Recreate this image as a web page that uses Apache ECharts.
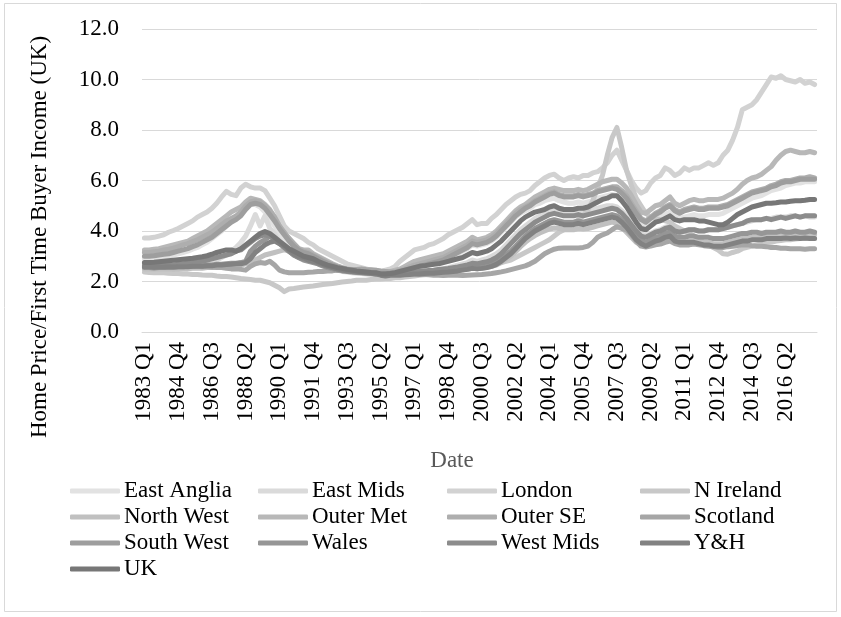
<!DOCTYPE html>
<html>
<head>
<meta charset="utf-8">
<script src="https://cdn.jsdelivr.net/npm/echarts@6/dist/echarts.min.js"></script>
<style>html,body{margin:0;padding:0;background:#fff}#c{width:841px;height:617px}</style>
</head>
<body>
<div id="c"></div>
<script>
// Categories: quarterly 1983 Q1 .. 2017 Q4
const years = [1983,1984,1985,1986,1987,1988,1989,1990,1991,1992,1993,1994,1995,1996,1997,1998,1999,2000,2001,2002,2003,2004,2005,2006,2007,2008,2009,2010,2011,2012,2013,2014,2015,2016,2017];
const quarters = ['Q1','Q2','Q3','Q4'];
const categories = [];
years.forEach(y => quarters.forEach(q => categories.push(y + ' ' + q)));

const seriesNames = ['East Anglia','East Mids','London','N Ireland','North West','Outer Met','Outer SE','Scotland','South West','Wales','West Mids','Y&H','UK'];
const yTicks = [0,2,4,6,8,10,12];

const eastAnglia = [
2.90,2.90,2.92,2.95, 2.98,3.00,3.05,3.10, 3.15,3.20,3.28,3.35, 3.45,3.55,3.70,3.85,
4.00,4.20,4.40,4.55, 4.75,5.00,5.10,5.05, 4.95,4.75,4.50,4.20, 3.90,3.65,3.45,3.30,
3.15,3.05,3.00,2.90, 2.80,2.70,2.62,2.55, 2.50,2.45,2.42,2.40, 2.38,2.35,2.33,2.32,
2.30,2.25,2.27,2.30, 2.32,2.35,2.40,2.45, 2.50,2.55,2.60,2.65, 2.70,2.75,2.80,2.90,
3.00,3.10,3.20,3.30, 3.45,3.40,3.45,3.50, 3.60,3.75,3.95,4.15, 4.35,4.55,4.70,4.80,
4.90,5.05,5.10,5.20, 5.25,5.30,5.20,5.15, 5.10,5.10,5.15,5.10, 5.15,5.20,5.30,5.35,
5.40,5.45,5.40,5.25, 5.05,4.80,4.55,4.30, 4.20,4.35,4.50,4.55, 4.65,4.75,4.60,4.50,
4.55,4.60,4.65,4.60, 4.60,4.65,4.65,4.65, 4.70,4.80,4.90,5.00, 5.10,5.20,5.30,5.35,
5.40,5.50,5.60,5.65, 5.70,5.80,5.85,5.90, 5.90,5.95,5.95,5.95];
const eastMids = [
2.50,2.50,2.48,2.50, 2.50,2.52,2.50,2.55, 2.55,2.58,2.60,2.62, 2.65,2.70,2.75,2.85,
2.95,3.05,3.20,3.35, 3.55,3.80,4.20,4.65, 4.20,4.60,4.10,3.90, 3.60,3.40,3.25,3.10,
3.00,2.90,2.85,2.80, 2.70,2.62,2.55,2.50, 2.45,2.40,2.38,2.35, 2.33,2.32,2.30,2.28,
2.25,2.22,2.22,2.25, 2.25,2.28,2.30,2.32, 2.35,2.38,2.40,2.42, 2.45,2.48,2.50,2.55,
2.60,2.65,2.70,2.75, 2.85,2.80,2.85,2.90, 3.00,3.10,3.25,3.45, 3.65,3.85,4.05,4.20,
4.35,4.50,4.60,4.70, 4.80,4.85,4.80,4.75, 4.75,4.75,4.80,4.75, 4.80,4.85,4.90,4.95,
5.00,5.00,4.95,4.80, 4.60,4.35,4.10,3.90, 3.80,3.90,4.00,4.05, 4.15,4.20,4.05,3.95,
4.00,4.05,4.05,4.00, 4.00,4.05,4.05,4.05, 4.10,4.15,4.20,4.25, 4.30,4.35,4.40,4.45,
4.45,4.50,4.50,4.55, 4.55,4.55,4.60,4.60, 4.55,4.60,4.55,4.55];
const london = [
3.72,3.72,3.75,3.80, 3.85,3.95,4.02,4.10, 4.20,4.30,4.40,4.55, 4.65,4.75,4.90,5.10,
5.35,5.57,5.45,5.40, 5.70,5.85,5.75,5.70, 5.70,5.60,5.30,5.00, 4.60,4.20,4.00,3.90,
3.80,3.70,3.55,3.45, 3.30,3.20,3.10,3.00, 2.90,2.80,2.70,2.65, 2.60,2.55,2.50,2.45,
2.45,2.40,2.45,2.50, 2.60,2.80,2.95,3.10, 3.25,3.30,3.35,3.45, 3.50,3.60,3.70,3.85,
3.95,4.05,4.15,4.30, 4.45,4.25,4.30,4.30, 4.50,4.65,4.85,5.05, 5.20,5.35,5.45,5.50,
5.60,5.80,5.95,6.10, 6.20,6.25,6.10,6.00, 6.10,6.15,6.10,6.20, 6.20,6.30,6.35,6.50,
6.70,7.00,7.20,6.80, 6.40,6.00,5.70,5.50, 5.60,5.90,6.10,6.20, 6.50,6.40,6.20,6.30,
6.50,6.40,6.50,6.50, 6.60,6.70,6.60,6.70, 7.00,7.20,7.60,8.10, 8.80,8.90,9.00,9.20,
9.50,9.80,10.10,10.05, 10.15,10.00,9.95,9.90, 10.00,9.85,9.90,9.80];
const nIreland = [
2.38,2.36,2.35,2.35, 2.35,2.33,2.32,2.32, 2.30,2.30,2.28,2.28, 2.26,2.25,2.25,2.22,
2.20,2.20,2.18,2.15, 2.12,2.10,2.08,2.05, 2.05,2.00,1.95,1.85, 1.75,1.60,1.70,1.72,
1.75,1.78,1.80,1.82, 1.85,1.88,1.90,1.92, 1.95,1.98,2.00,2.02, 2.05,2.05,2.05,2.08,
2.10,2.10,2.12,2.12, 2.15,2.15,2.18,2.20, 2.22,2.25,2.27,2.30, 2.32,2.35,2.38,2.40,
2.42,2.45,2.48,2.50, 2.55,2.55,2.60,2.62, 2.65,2.70,2.75,2.80, 2.85,2.95,3.05,3.15,
3.25,3.35,3.45,3.55, 3.65,3.80,3.95,4.05, 4.15,4.30,4.45,4.60, 4.85,5.20,5.70,6.20,
7.00,7.70,8.10,7.30, 6.40,5.80,5.30,5.00, 4.70,4.55,4.50,4.45, 4.40,4.35,4.20,4.10,
4.00,3.90,3.80,3.70, 3.55,3.45,3.35,3.25, 3.10,3.08,3.15,3.20, 3.30,3.35,3.40,3.45,
3.50,3.55,3.55,3.60, 3.62,3.65,3.65,3.68, 3.70,3.70,3.72,3.70];
const northWest = [
2.50,2.50,2.48,2.50, 2.50,2.50,2.48,2.50, 2.50,2.50,2.52,2.52, 2.52,2.55,2.55,2.58,
2.58,2.60,2.62,2.65, 2.65,2.70,2.75,2.85, 2.95,3.05,3.10,3.15, 3.20,3.25,3.20,3.10,
3.00,2.95,2.90,2.82, 2.75,2.68,2.62,2.55, 2.50,2.45,2.42,2.40, 2.38,2.35,2.33,2.32,
2.30,2.28,2.27,2.28, 2.28,2.28,2.30,2.30, 2.32,2.32,2.33,2.35, 2.35,2.37,2.38,2.40,
2.42,2.44,2.46,2.48, 2.52,2.50,2.52,2.55, 2.60,2.65,2.75,2.88, 3.00,3.18,3.38,3.55,
3.70,3.82,3.92,4.00, 4.08,4.12,4.10,4.05, 4.05,4.05,4.10,4.08, 4.10,4.15,4.20,4.25,
4.30,4.35,4.30,4.15, 3.95,3.75,3.55,3.45, 3.40,3.50,3.60,3.65, 3.70,3.75,3.60,3.55,
3.55,3.60,3.60,3.55, 3.55,3.55,3.50,3.50, 3.50,3.55,3.60,3.65, 3.70,3.70,3.75,3.75,
3.75,3.80,3.80,3.80, 3.85,3.82,3.85,3.85, 3.85,3.85,3.88,3.85];
const outerMet = [
3.25,3.25,3.28,3.30, 3.35,3.40,3.45,3.50, 3.55,3.60,3.70,3.80, 3.90,4.00,4.15,4.30,
4.45,4.60,4.75,4.85, 4.95,5.15,5.30,5.25, 5.20,5.05,4.85,4.55, 4.20,3.90,3.70,3.50,
3.30,3.25,3.25,3.10, 3.00,2.90,2.80,2.70, 2.62,2.55,2.50,2.48, 2.45,2.45,2.42,2.40,
2.40,2.35,2.38,2.40, 2.45,2.50,2.60,2.70, 2.80,2.85,2.90,2.95, 3.00,3.05,3.10,3.20,
3.30,3.40,3.50,3.60, 3.75,3.65,3.70,3.75, 3.85,4.00,4.20,4.40, 4.60,4.80,4.95,5.05,
5.20,5.35,5.45,5.55, 5.65,5.70,5.65,5.60, 5.60,5.60,5.65,5.60, 5.65,5.75,5.85,5.95,
6.00,6.05,6.05,5.90, 5.70,5.40,5.05,4.75, 4.70,4.85,5.00,5.05, 5.20,5.35,5.10,5.00,
5.10,5.20,5.25,5.20, 5.20,5.25,5.25,5.25, 5.30,5.40,5.50,5.65, 5.85,6.00,6.10,6.15,
6.25,6.40,6.55,6.80, 7.00,7.15,7.20,7.15, 7.10,7.10,7.15,7.10];
const outerSE = [
3.15,3.15,3.18,3.20, 3.25,3.28,3.32,3.38, 3.45,3.50,3.58,3.65, 3.75,3.85,3.95,4.10,
4.25,4.40,4.50,4.60, 4.75,5.00,5.15,5.20, 5.15,5.00,4.80,4.55, 4.20,3.95,3.70,3.50,
3.30,3.20,3.15,3.05, 2.95,2.85,2.75,2.65, 2.60,2.55,2.50,2.45, 2.42,2.40,2.40,2.38,
2.35,2.30,2.32,2.35, 2.40,2.45,2.50,2.58, 2.65,2.70,2.75,2.80, 2.85,2.90,2.95,3.05,
3.15,3.25,3.35,3.45, 3.60,3.55,3.60,3.65, 3.75,3.90,4.10,4.30, 4.50,4.70,4.85,4.95,
5.05,5.20,5.30,5.40, 5.50,5.55,5.45,5.40, 5.40,5.40,5.45,5.40, 5.45,5.50,5.60,5.65,
5.70,5.75,5.75,5.60, 5.40,5.10,4.80,4.50, 4.40,4.55,4.70,4.80, 4.95,5.05,4.85,4.75,
4.85,4.90,4.95,4.90, 4.90,4.95,4.95,4.95, 5.00,5.05,5.15,5.25, 5.35,5.45,5.55,5.60,
5.65,5.70,5.80,5.85, 5.95,6.00,6.00,6.05, 6.10,6.10,6.15,6.10];
const scotland = [
2.70,2.70,2.68,2.68, 2.66,2.66,2.64,2.64, 2.62,2.62,2.60,2.60, 2.58,2.58,2.56,2.55,
2.55,2.52,2.50,2.50, 2.48,2.45,2.60,2.70, 2.75,2.72,2.80,2.65, 2.45,2.38,2.35,2.35,
2.35,2.35,2.37,2.38, 2.40,2.40,2.42,2.42, 2.45,2.45,2.47,2.48, 2.48,2.50,2.48,2.47,
2.45,2.42,2.40,2.38, 2.35,2.33,2.32,2.30, 2.30,2.28,2.28,2.27, 2.25,2.25,2.24,2.25,
2.25,2.25,2.24,2.25, 2.26,2.27,2.28,2.30, 2.32,2.35,2.38,2.42, 2.47,2.52,2.57,2.62,
2.70,2.80,2.95,3.10, 3.20,3.28,3.32,3.33, 3.33,3.33,3.33,3.35, 3.40,3.55,3.75,3.85,
3.92,4.05,4.17,4.10, 4.05,3.85,3.60,3.40, 3.37,3.40,3.45,3.48, 3.55,3.60,3.50,3.45,
3.45,3.45,3.48,3.45, 3.42,3.40,3.38,3.35, 3.35,3.38,3.40,3.42, 3.45,3.45,3.42,3.40,
3.40,3.38,3.35,3.35, 3.32,3.32,3.30,3.30, 3.30,3.28,3.30,3.30];
const southWest = [
3.00,3.00,3.02,3.05, 3.08,3.10,3.15,3.20, 3.25,3.30,3.38,3.45, 3.55,3.65,3.75,3.90,
4.05,4.20,4.35,4.45, 4.60,4.85,5.05,5.10, 5.05,4.90,4.65,4.40, 4.10,3.85,3.60,3.40,
3.25,3.15,3.10,3.00, 2.90,2.80,2.72,2.65, 2.58,2.52,2.48,2.45, 2.42,2.40,2.38,2.35,
2.32,2.28,2.30,2.32, 2.35,2.40,2.45,2.50, 2.55,2.60,2.65,2.70, 2.75,2.80,2.85,2.95,
3.05,3.15,3.25,3.35, 3.50,3.45,3.50,3.55, 3.65,3.80,4.00,4.20, 4.40,4.60,4.75,4.90,
5.00,5.15,5.25,5.35, 5.45,5.50,5.40,5.35, 5.35,5.35,5.40,5.35, 5.40,5.45,5.55,5.60,
5.65,5.70,5.65,5.50, 5.30,5.00,4.70,4.45, 4.35,4.50,4.65,4.75, 4.90,5.00,4.80,4.70,
4.80,4.85,4.90,4.85, 4.85,4.90,4.90,4.90, 4.95,5.00,5.10,5.20, 5.30,5.40,5.50,5.55,
5.60,5.65,5.75,5.80, 5.90,5.95,5.95,6.00, 6.05,6.05,6.05,6.05];
const wales = [
2.55,2.55,2.53,2.55, 2.55,2.56,2.56,2.58, 2.58,2.60,2.60,2.62, 2.62,2.65,2.65,2.68,
2.68,2.70,2.72,2.72, 2.75,2.80,3.20,3.40, 3.55,3.65,3.80,3.70, 3.55,3.40,3.20,3.05,
2.95,2.85,2.80,2.75, 2.70,2.62,2.55,2.50, 2.45,2.42,2.40,2.38, 2.36,2.35,2.33,2.32,
2.30,2.28,2.28,2.30, 2.30,2.30,2.32,2.33, 2.35,2.35,2.37,2.38, 2.40,2.40,2.42,2.45,
2.45,2.48,2.50,2.55, 2.60,2.58,2.60,2.65, 2.70,2.78,2.90,3.05, 3.20,3.40,3.60,3.80,
3.95,4.10,4.20,4.30, 4.40,4.45,4.40,4.35, 4.35,4.35,4.40,4.35, 4.40,4.45,4.50,4.55,
4.60,4.65,4.60,4.45, 4.25,4.00,3.80,3.65, 3.55,3.65,3.75,3.80, 3.90,3.95,3.80,3.75,
3.75,3.80,3.80,3.75, 3.75,3.75,3.70,3.70, 3.70,3.75,3.80,3.85, 3.90,3.90,3.95,3.95,
3.90,3.95,3.95,3.95, 4.00,3.95,3.95,4.00, 3.95,3.95,4.00,3.95];
const westMids = [
2.62,2.62,2.60,2.62, 2.63,2.65,2.65,2.68, 2.70,2.72,2.75,2.78, 2.80,2.85,2.90,2.95,
3.00,3.05,3.10,3.20, 3.25,3.40,3.55,3.70, 3.80,3.85,3.80,3.65, 3.50,3.35,3.20,3.05,
2.95,2.90,2.85,2.80, 2.72,2.65,2.60,2.55, 2.50,2.47,2.45,2.42, 2.40,2.38,2.36,2.35,
2.33,2.30,2.30,2.32, 2.32,2.33,2.35,2.36, 2.38,2.40,2.42,2.44, 2.45,2.48,2.50,2.52,
2.55,2.58,2.62,2.66, 2.72,2.70,2.74,2.78, 2.85,2.95,3.10,3.30, 3.50,3.70,3.90,4.05,
4.20,4.35,4.45,4.55, 4.65,4.70,4.65,4.60, 4.60,4.60,4.65,4.60, 4.65,4.70,4.75,4.80,
4.85,4.90,4.85,4.70, 4.50,4.25,4.00,3.80, 3.75,3.85,3.95,4.00, 4.10,4.15,4.00,3.95,
4.00,4.05,4.05,4.00, 4.00,4.05,4.05,4.05, 4.10,4.15,4.20,4.25, 4.30,4.40,4.45,4.45,
4.45,4.50,4.45,4.50, 4.55,4.50,4.55,4.60, 4.55,4.60,4.60,4.60];
const yh = [
2.58,2.58,2.56,2.57, 2.57,2.58,2.57,2.58, 2.58,2.58,2.60,2.60, 2.60,2.62,2.62,2.65,
2.65,2.67,2.68,2.70, 2.70,2.75,2.90,3.15, 3.30,3.45,3.55,3.60, 3.50,3.40,3.25,3.10,
3.00,2.95,2.85,2.80, 2.75,2.68,2.60,2.55, 2.50,2.45,2.42,2.40, 2.38,2.36,2.35,2.33,
2.30,2.25,2.22,2.25, 2.25,2.25,2.27,2.28, 2.30,2.30,2.32,2.33, 2.33,2.35,2.37,2.38,
2.40,2.42,2.45,2.48, 2.52,2.50,2.52,2.55, 2.60,2.68,2.80,2.95, 3.10,3.30,3.50,3.70,
3.85,4.00,4.10,4.20, 4.30,4.35,4.30,4.25, 4.25,4.25,4.30,4.25, 4.30,4.35,4.40,4.45,
4.50,4.55,4.50,4.35, 4.15,3.90,3.65,3.50, 3.40,3.50,3.60,3.65, 3.75,3.80,3.60,3.55,
3.55,3.55,3.55,3.50, 3.45,3.45,3.40,3.40, 3.40,3.45,3.50,3.55, 3.60,3.60,3.65,3.65,
3.65,3.70,3.70,3.70, 3.70,3.72,3.70,3.72, 3.70,3.72,3.70,3.70];
const uk = [
2.75,2.75,2.76,2.78, 2.80,2.82,2.84,2.86, 2.88,2.90,2.92,2.95, 2.98,3.02,3.08,3.15,
3.20,3.25,3.25,3.20, 3.30,3.45,3.60,3.75, 3.90,3.98,3.90,3.75, 3.60,3.45,3.30,3.20,
3.10,3.00,2.95,2.90, 2.80,2.72,2.65,2.60, 2.55,2.52,2.48,2.45, 2.42,2.40,2.38,2.36,
2.35,2.30,2.30,2.32, 2.35,2.40,2.45,2.50, 2.55,2.60,2.62,2.65, 2.68,2.70,2.75,2.80,
2.85,2.90,2.95,3.05, 3.15,3.10,3.15,3.20, 3.30,3.45,3.60,3.80, 4.00,4.20,4.40,4.55,
4.65,4.75,4.80,4.85, 4.95,5.00,4.90,4.85, 4.85,4.85,4.90,4.90, 4.95,5.05,5.15,5.25,
5.30,5.40,5.40,5.20, 4.95,4.65,4.35,4.10, 4.05,4.20,4.35,4.40, 4.50,4.60,4.45,4.40,
4.45,4.45,4.45,4.40, 4.40,4.35,4.30,4.25, 4.25,4.35,4.50,4.65, 4.75,4.85,4.95,5.00,
5.05,5.10,5.10,5.12, 5.15,5.15,5.18,5.20, 5.20,5.22,5.25,5.25];

const seriesData = [eastAnglia, eastMids, london, nIreland, northWest, outerMet, outerSE, scotland, southWest, wales, westMids, yh, uk];
const colors = ['#e2e2e2','#dadada','#d2d2d2','#c8c8c8','#c0c0c0','#b8b8b8','#aeaeae','#a6a6a6','#9e9e9e','#969696','#8c8c8c','#828282','#777777'];

const FONT = 'Liberation Serif';
const chart = echarts.init(document.getElementById('c'), null, {renderer: 'canvas'});

// legend layout: 4 columns x 4 rows
const colX = [70, 258, 447, 640];
const rowY = [491, 517, 543, 569];
const legends = seriesNames.map((n, i) => ({
  data: [n],
  left: colX[i % 4],
  top: rowY[Math.floor(i / 4)] - 12,
  orient: 'horizontal',
  padding: 0,
  itemWidth: 50,
  itemHeight: 5,
  icon: 'roundRect',
  textStyle: {fontFamily: FONT, fontSize: 23, color: '#000', lineHeight: 24, padding: [0, 0, 0, -1]}
}));

chart.setOption({
  animation: false,
  backgroundColor: '#fff',
  color: colors,
  grid: {left: 142, right: 24, top: 29, bottom: 285, containLabel: false},
  legend: legends,
  xAxis: {
    type: 'category',
    data: categories,
    boundaryGap: true,
    axisLine: {show: true, lineStyle: {color: '#d9d9d9', width: 1}},
    axisTick: {show: false},
    axisLabel: {interval: 6, rotate: 90, fontFamily: FONT, fontSize: 23, color: '#000', margin: 10}
  },
  yAxis: {
    type: 'value',
    min: yTicks[0], max: yTicks[yTicks.length - 1], interval: 2,
    axisLine: {show: false},
    axisTick: {show: false},
    splitLine: {lineStyle: {color: '#d9d9d9', width: 1}},
    axisLabel: {formatter: v => v.toFixed(1), fontFamily: FONT, fontSize: 23, color: '#000', margin: 23}
  },
  series: seriesNames.map((n, i) => ({
    name: n,
    type: 'line',
    data: seriesData[i],
    showSymbol: false,
    symbol: 'none',
    lineStyle: {width: 5, cap: 'round', join: 'round', color: colors[i]},
    itemStyle: {color: colors[i]},
    emphasis: {disabled: true}
  })),
  graphic: [
    {type: 'rect', shape: {x: 4.5, y: 3.5, width: 832, height: 608}, style: {fill: 'none', stroke: '#d9d9d9', lineWidth: 1}, silent: true, z: -10},
    {type: 'text', x: 452, y: 461, style: {text: 'Date', fontFamily: FONT, fontSize: 23, fill: '#595959', align: 'center', verticalAlign: 'middle'}},
    {type: 'text', x: 40, y: 237, rotation: Math.PI / 2, style: {text: 'Home Price/First Time Buyer Income (UK)', fontFamily: FONT, fontSize: 23, fill: '#000', align: 'center', verticalAlign: 'middle'}}
  ]
});
</script>
</body>
</html>
